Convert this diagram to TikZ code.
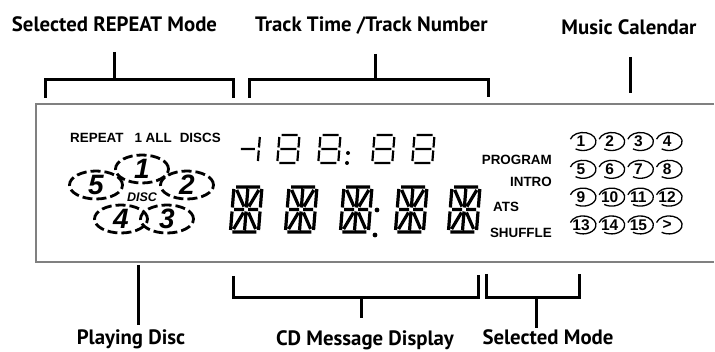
\documentclass[tikz,border=0pt]{standalone}
\usepackage{fontspec}
\setmainfont{PT Sans}
\newfontfamily\lcdfont{Liberation Sans}
\usetikzlibrary{shapes.geometric}
\tikzset{
  callout/.style={font=\fontsize{20.8}{21}\selectfont\bfseries, inner sep=0pt, anchor=base},
  lcdlabel/.style={font=\lcdfont\fontsize{13.4}{14}\selectfont\bfseries, inner sep=0pt},
  discring/.style={draw, ellipse, line width=2.8pt, dash pattern=on 10pt off 4pt, inner sep=0pt,
    minimum width=53pt, minimum height=28pt, font=\lcdfont\fontsize{28}{28}\selectfont\bfseries\itshape},
  calnum/.style={font=\lcdfont\fontsize{15.5}{15.5}\selectfont\bfseries, inner sep=0pt},
  bracket/.style={line width=3pt},
  panel/.style={draw=black!50, line width=1.5pt},
  segthin/.style={line width=2.2pt},
  segbold/.style={line width=3.2pt}
}
\begin{document}
\begin{tikzpicture}[x=1pt,y=-1pt]
\useasboundingbox (0,0) rectangle (715,352);
% display panel
\draw[panel] (714,104) -- (36,104) -- (36,262) -- (714,262);

% callouts
\node[callout] (repmode) at (114.5,32) {Selected REPEAT Mode};
\node[callout] (tracktime) at (371.5,32) {Track Time /Track Number};
\node[callout] (calendar) at (629,35) {Music Calendar};
\node[callout] (playdisc) at (131,345) {Playing Disc};
\node[callout] (cdmsg) at (365,346) {CD Message Display};
\node[callout] (selmode) at (548,345) {Selected Mode};

\coordinate (repL) at (45,98);
\coordinate (repR) at (233,98);
\coordinate (repS) at (114,52);
\coordinate (repM) at (114,80);
\draw[bracket] (repL) -- ++(0,-18) -| (repR);
\draw[bracket] (repS) -- (repM);

\coordinate (trkL) at (249,98);
\coordinate (trkR) at (488,97);
\coordinate (trkS) at (375,54);
\coordinate (trkM) at (375,80);
\draw[bracket] (trkL) -- ++(0,-18) -| (trkR);
\draw[bracket] (trkS) -- (trkM);

\coordinate (calS) at (630,57);
\coordinate (calM) at (630,93);
\draw[bracket] (calS) -- (calM);

\coordinate (plyS) at (138,265);
\coordinate (plyM) at (138,325);
\draw[bracket] (plyS) -- (plyM);

\coordinate (cdL) at (233,276);
\coordinate (cdR) at (478,275);
\coordinate (cdM) at (361,298);
\coordinate (cdS) at (361,318);
\draw[bracket] (cdL) -- ++(0,22) -| (cdR);
\draw[bracket] (cdM) -- (cdS);

\coordinate (selL) at (486,274);
\coordinate (selR) at (579,274);
\coordinate (selM) at (536,298);
\coordinate (selS) at (536,328);
\draw[bracket] (selL) -- ++(0,24) -| (selR);
\draw[bracket] (selM) -- (selS);

% repeat mode and discs
\node[lcdlabel, anchor=base west] (repeat) at (70,142.7) {REPEAT\hspace{11pt}1 ALL\hspace{8pt}DISCS};
\node[discring] (disc1) at (142,169) {1};
\node[discring] (disc5) at (96,185) {5};
\node[discring] (disc2) at (187,185) {2};
\node[discring] (disc4) at (121,219) {4};
\node[discring] (disc3) at (167,219) {3};
\node[font=\lcdfont\fontsize{12.5}{12.5}\selectfont\bfseries\itshape, inner sep=0pt] (disclbl) at (142,197) {DISC};

% track time
\begin{scope}[shift={(240,135)}, xslant=0.08]
  \draw[segthin] (2,14) -- (16,14) (20,2) -- (20,12.5) (20,15.5) -- (20,26);
\end{scope}
\foreach \dx in {279.5,320.5,374.5,414.5}{
  \begin{scope}[shift={(\dx,135)}, xslant=0.08]
    \draw[segthin] (2,0) -- (18,0) (20,2) -- (20,12.5) (20,15.5) -- (20,26) (2,28) -- (18,28)
      (0,15.5) -- (0,26) (0,2) -- (0,12.5) (2,14) -- (18,14);
  \end{scope}
}
\fill (348,153) circle (2pt);
\fill (347,163) circle (2pt);

% message characters
\foreach \cx in {234,289,344,399,452}{
  \begin{scope}[shift={(\cx,187)}, xslant=0.08]
    \draw[segbold] (2,0) -- (26,0) (2,45) -- (26,45)
      (0,2) -- (0,20.5) (0,24.5) -- (0,43) (28,2) -- (28,20.5) (28,24.5) -- (28,43)
      (2,22.5) -- (12,22.5) (16,22.5) -- (26,22.5)
      (14,2) -- (14,20.5) (14,24.5) -- (14,43)
      (3,3) -- (11.5,19.5) (25,3) -- (16.5,19.5) (11.5,25.5) -- (3,42) (16.5,25.5) -- (25,42);
  \end{scope}
}
\fill (377,210) circle (2.4pt);
\fill (375,235) circle (2.4pt);

% modes
\node[lcdlabel, anchor=base east] (program) at (552,164.8) {PROGRAM};
\node[lcdlabel, anchor=base east] (intro) at (552,187) {INTRO};
\node[lcdlabel, anchor=base west] (ats) at (493,212) {ATS};
\node[lcdlabel, anchor=base east] (shuffle) at (552,238) {SHUFFLE};

% music calendar
\foreach \row in {0,...,3}{
  \foreach \col in {0,...,3}{
    \pgfmathtruncatemacro\n{4*\row+\col+1}
    \node[calnum] (cal\n) at (581+28.7*\col,141.5+27.8*\row) {\ifnum\n<16 \n\else >\fi};
    \draw[line width=1.3pt] (cal\n.center) ++(2,0) ++(165:13pt and 9pt)
      arc[start angle=165, end angle=-125, x radius=13pt, y radius=9pt];
  }
}
\end{tikzpicture}
\end{document}
